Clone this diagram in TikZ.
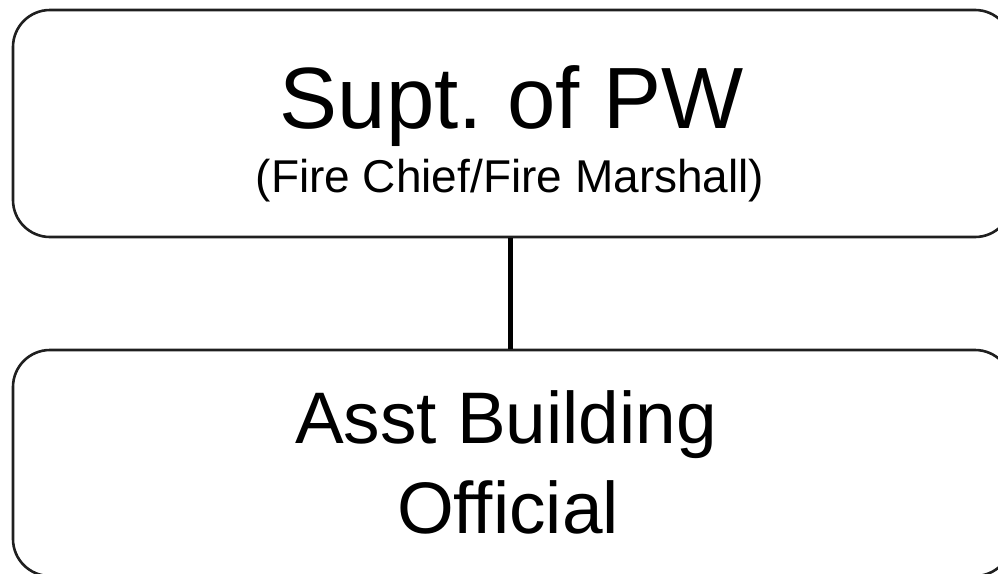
\documentclass[tikz,border=0pt]{standalone}
\usepackage{fontspec}
\setmainfont{Liberation Sans}
\frenchspacing
\begin{document}
\begin{tikzpicture}[x=1pt,y=-1pt,
  boxstyle/.style={draw=black!88, line width=2.6pt, rounded corners=37pt, inner sep=0pt, minimum width=999pt},
  titletext/.style={anchor=base, inner sep=0pt, font=\fontsize{87}{90}\selectfont},
  subtext/.style={anchor=base, inner sep=0pt, font=\fontsize{46}{50}\selectfont},
  lowtext/.style={anchor=base, inner sep=0pt, font=\fontsize{73}{78}\selectfont},
  link/.style={draw=black, line width=5pt}]
\useasboundingbox (0,0) rectangle (998,573);
\node[boxstyle, minimum height=227pt] (top) at (512.5,123.5) {};
\node[boxstyle, minimum height=226pt] (bot) at (512.5,463) {};
\node[titletext] (t1) at (512,128) {Supt.\ of PW};
\node[subtext] (t2) at (510,192) {(Fire Chief/Fire Marshall)};
\node[lowtext] (b1) at (506,443) {Asst Building};
\node[lowtext] (b2) at (508,533) {Official};
\coordinate (cx) at (510,0);
\draw[link] (top.south -| cx) -- (bot.north -| cx);
\end{tikzpicture}
\end{document}
